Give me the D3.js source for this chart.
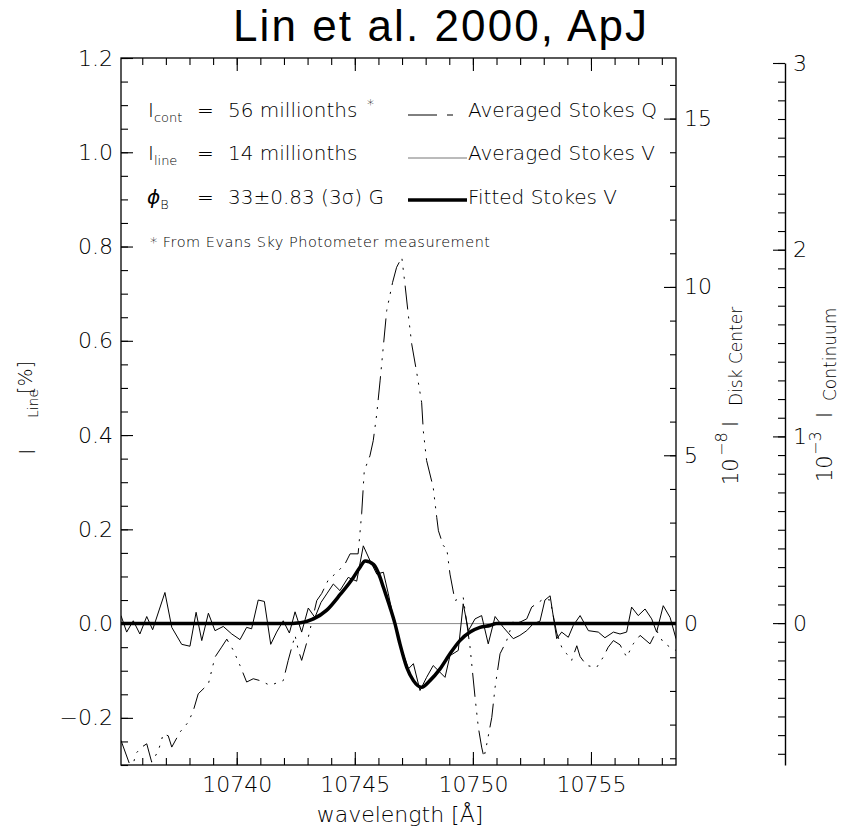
<!DOCTYPE html>
<html>
<head>
<meta charset="utf-8">
<script src="https://cdn.jsdelivr.net/npm/d3@7"></script>
<style>
body { margin: 0; background: #fff; }
svg text { font-family: "DejaVu Sans", sans-serif; fill: #000; }
</style>
</head>
<body>
<svg id="chart" width="841" height="837"></svg>
<script>
// averaged Stokes V, wavelength [A] and I_line [%]
var vWave = [10735.10, 10735.34, 10735.62, 10735.90, 10736.19, 10736.44, 10736.96, 10737.25, 10737.67, 10738.02,
  10738.28, 10738.52, 10738.80, 10739.08, 10739.43, 10739.79, 10740.14, 10740.42, 10740.63, 10740.91,
  10741.17, 10741.44, 10741.69, 10741.97, 10742.23, 10742.47, 10742.75, 10743.03, 10743.31, 10743.57,
  10743.81, 10744.09, 10744.37, 10744.72, 10745.08, 10745.36, 10745.64, 10745.93, 10746.21, 10746.42,
  10746.63, 10746.91, 10747.27, 10747.48, 10747.76, 10748.04, 10748.32, 10748.54, 10748.82, 10749.03,
  10749.38, 10749.59, 10749.81, 10750.09, 10750.37, 10750.65, 10750.94, 10751.29, 10751.71, 10751.99,
  10752.28, 10752.56, 10752.84, 10753.05, 10753.27, 10753.55, 10753.76, 10754.04, 10754.25, 10754.54,
  10754.89, 10755.31, 10755.59, 10755.95, 10756.23, 10756.51, 10756.72, 10757.00, 10757.29, 10757.57,
  10757.78, 10758.06, 10758.35, 10758.60];
var vValue = [0.017, -0.018, 0.006, -0.022, 0.015, -0.013, 0.066, -0.008, -0.044, -0.048,
  0.024, -0.036, 0.022, -0.015, -0.006, -0.022, -0.034, -0.008, -0.011, 0.050,
  0.047, -0.044, -0.018, 0.006, -0.020, 0.025, -0.018, 0.033, 0.013, 0.045,
  0.063, 0.084, 0.070, 0.098, 0.090, 0.165, 0.134, 0.105, 0.109, 0.063,
  0.013, -0.043, -0.096, -0.085, -0.142, -0.114, -0.089, -0.100, -0.114, -0.068,
  -0.057, 0.042, -0.015, 0.010, 0.017, -0.043, 0.015, -0.008, -0.032, -0.025,
  -0.015, 0.000, 0.005, 0.050, 0.059, -0.032, -0.018, -0.029, -0.004, 0.017,
  -0.015, -0.018, -0.030, -0.018, -0.022, -0.018, 0.035, 0.017, 0.031, 0.010,
  -0.018, 0.038, 0.013, -0.032];

// averaged Stokes Q
var qWave = [10735.10, 10735.55, 10735.74, 10735.98, 10736.19, 10736.40, 10736.68, 10736.89, 10737.10, 10737.25,
  10737.60, 10737.95, 10738.16, 10738.37, 10738.80, 10739.08, 10739.36, 10739.58, 10739.86, 10740.14,
  10740.42, 10740.70, 10740.99, 10741.41, 10741.97, 10742.18, 10742.47, 10742.61, 10742.75, 10743.03,
  10743.39, 10743.60, 10743.88, 10744.23, 10744.59, 10744.80, 10745.14, 10745.29, 10745.40, 10745.64,
  10745.78, 10745.93, 10746.07, 10746.35, 10746.60, 10746.77, 10746.99, 10747.13, 10747.27, 10747.41,
  10747.62, 10747.83, 10747.90, 10748.04, 10748.32, 10748.47, 10748.54, 10748.75, 10748.89, 10749.03,
  10749.24, 10749.59, 10749.88, 10750.09, 10750.23, 10750.37, 10750.47, 10750.59, 10750.80, 10750.94,
  10751.15, 10751.43, 10751.71, 10751.99, 10752.28, 10752.49, 10752.98, 10753.27, 10753.55, 10753.76,
  10753.97, 10754.18, 10754.40, 10754.54, 10754.82, 10755.24, 10755.52, 10755.73, 10755.95, 10756.23,
  10756.51, 10756.79, 10757.08, 10757.50, 10757.78, 10758.06, 10758.35, 10758.60];
var qValue = [-0.248, -0.310, -0.275, -0.262, -0.255, -0.294, -0.270, -0.234, -0.238, -0.262,
  -0.230, -0.209, -0.185, -0.149, -0.128, -0.071, -0.050, -0.033, -0.057, -0.089,
  -0.124, -0.117, -0.121, -0.131, -0.121, -0.078, -0.025, -0.057, -0.078, -0.029,
  0.049, 0.064, 0.093, 0.108, 0.127, 0.148, 0.148, 0.233, 0.324, 0.356,
  0.388, 0.445, 0.515, 0.664, 0.724, 0.756, 0.777, 0.717, 0.653, 0.593,
  0.533, 0.469, 0.409, 0.346, 0.289, 0.225, 0.197, 0.165, 0.161, 0.105,
  0.049, 0.056, -0.050, -0.156, -0.220, -0.262, -0.284, -0.255, -0.199, -0.135,
  -0.064, -0.036, 0.006, 0.003, 0.010, 0.035, 0.052, 0.050, -0.020, -0.050,
  -0.064, -0.078, -0.047, -0.070, -0.089, -0.093, -0.071, -0.050, -0.036, -0.045,
  -0.071, -0.043, -0.025, -0.043, -0.015, -0.040, -0.050, -0.057];

// fitted Stokes V
var fitWave = [10735.10, 10742.00, 10742.70, 10743.25, 10743.80, 10744.40, 10744.94, 10745.20, 10745.44, 10745.80,
  10746.07, 10746.21, 10746.49, 10746.70, 10746.91, 10747.20, 10747.48, 10747.83, 10748.18, 10748.61,
  10749.03, 10749.45, 10749.88, 10750.30, 10750.72, 10751.00, 10758.60];
var fitValue = [0, 0, 0.002, 0.010, 0.028, 0.063, 0.098, 0.118, 0.133, 0.125,
  0.098, 0.077, 0.035, 0.000, -0.043, -0.093, -0.121, -0.135, -0.121, -0.096,
  -0.064, -0.036, -0.018, -0.008, -0.004, 0, 0];

// ticks
var xMajor = [10740, 10745, 10750, 10755];
var xMinor = d3.range(10736, 10759, 1);
var yMajor = [-0.2, 0, 0.2, 0.4, 0.6, 0.8, 1.0, 1.2];
var yMinor = d3.range(-30, 121, 5).map(function (d) { return d / 100; });
var diskMajor = [0, 5, 10, 15];
var diskMinor = d3.range(-4, 17, 1);
var contMajor = [0, 1, 2, 3];
var contMinor = d3.range(-7, 31, 1).map(function (d) { return d / 10; });

var svg = d3.select("#chart");
var pLeft = 121, pRight = 676, pTop = 58, pBottom = 765;

var x = d3.scaleLinear().domain([10735.1, 10758.6]).range([pLeft, pRight]);
var y = d3.scaleLinear().domain([-0.3, 1.2]).range([pBottom, pTop]);
// 1 % of I_line = 14e-8 of disk center intensity
var yDisk = d3.scaleLinear().domain([-0.3 * 14, 1.2 * 14]).range([pBottom, pTop]);
var yCont = d3.scaleLinear().domain([-0.76, 3.0]).range([pBottom, 63]);

function finish(g, keepDomain) {
    if (!keepDomain) g.select(".domain").remove();
    g.attr("font-family", null).attr("font-size", 22).attr("font-weight", 200);
    g.selectAll(".tick line").attr("stroke", "#000").attr("stroke-width", 1.1);
    g.selectAll("text").attr("fill", "#000");
}

var fmt1 = d3.format(".1f");

// bottom / top axes
svg.append("g").attr("transform", "translate(0," + pBottom + ")")
    .call(d3.axisBottom(x).tickValues(xMinor).tickSize(-7).tickFormat(""))
    .call(finish);
svg.append("g").attr("transform", "translate(0," + pBottom + ")")
    .call(d3.axisBottom(x).tickValues(xMajor).tickSize(-13).tickPadding(11).tickFormat(d3.format("d")))
    .call(finish);
svg.append("g").attr("transform", "translate(0," + pTop + ")")
    .call(d3.axisTop(x).tickValues(xMinor).tickSize(-7).tickFormat(""))
    .call(finish);
svg.append("g").attr("transform", "translate(0," + pTop + ")")
    .call(d3.axisTop(x).tickValues(xMajor).tickSize(-13).tickFormat(""))
    .call(finish);

// left axis
svg.append("g").attr("transform", "translate(" + pLeft + ",0)")
    .call(d3.axisLeft(y).tickValues(yMinor).tickSize(-7).tickFormat(""))
    .call(finish);
svg.append("g").attr("transform", "translate(" + pLeft + ",0)")
    .call(d3.axisLeft(y).tickValues(yMajor).tickSize(-12).tickPadding(8).tickFormat(fmt1))
    .call(finish);

// right edge of the plot: 10^-8 I disk center
svg.append("g").attr("transform", "translate(" + pRight + ",0)")
    .call(d3.axisRight(yDisk).tickValues(diskMinor).tickSize(-6).tickFormat(""))
    .call(finish);
svg.append("g").attr("transform", "translate(" + pRight + ",0)")
    .call(d3.axisRight(yDisk).tickValues(diskMajor).tickSize(-12).tickPadding(8).tickFormat(d3.format("d")))
    .call(finish);

// separate continuum axis
svg.append("g").attr("transform", "translate(785,0)")
    .call(d3.axisRight(yCont).tickValues(contMinor).tickSize(-7).tickSizeOuter(0).tickFormat(""))
    .call(function (g) {
        finish(g, true);
        g.select(".domain").attr("stroke", "#000").attr("stroke-width", 1.4);
    });
svg.append("g").attr("transform", "translate(785,0)")
    .call(d3.axisRight(yCont).tickValues(contMajor).tickSize(-12).tickPadding(8).tickFormat(d3.format("d")))
    .call(finish);

// frame
svg.append("rect")
    .attr("x", pLeft).attr("y", pTop)
    .attr("width", pRight - pLeft).attr("height", pBottom - pTop)
    .attr("fill", "none").attr("stroke", "#000").attr("stroke-width", 1.3);

// curves
svg.append("clipPath").attr("id", "plotclip")
    .append("rect").attr("x", pLeft).attr("y", pTop)
    .attr("width", pRight - pLeft).attr("height", pBottom - pTop);

var plot = svg.append("g").attr("clip-path", "url(#plotclip)");

plot.append("line")
    .attr("x1", pLeft).attr("x2", pRight)
    .attr("y1", y(0)).attr("y2", y(0))
    .attr("stroke", "#888").attr("stroke-width", 1);

var line = d3.line().x(function (d) { return x(d[0]); }).y(function (d) { return y(d[1]); });

var qData = d3.zip(qWave, qValue);
var vData = d3.zip(vWave, vValue);
var fitData = d3.zip(fitWave, fitValue);

plot.append("path").datum(qData)
    .attr("d", line)
    .attr("fill", "none").attr("stroke", "#000").attr("stroke-width", 1)
    .attr("stroke-dasharray", "24,7,2,7,2,7,2,7");

plot.append("path").datum(vData)
    .attr("d", line)
    .attr("fill", "none").attr("stroke", "#000").attr("stroke-width", 1)
    .attr("stroke-linejoin", "round");

plot.append("path").datum(fitData)
    .attr("d", line.curve(d3.curveMonotoneX))
    .attr("fill", "none").attr("stroke", "#000").attr("stroke-width", 3.5);

// title
svg.append("text")
    .attr("x", 440).attr("y", 41)
    .attr("text-anchor", "middle")
    .style("font-family", "'Liberation Sans', Arial, sans-serif")
    .attr("font-size", 44)
    .attr("textLength", 414).attr("lengthAdjust", "spacing")
    .text("Lin et al. 2000, ApJ");

// legend texts
var leg = svg.append("g").attr("font-size", 20).attr("font-weight", 200);
var rows = [117, 160, 204];

var t1 = leg.append("text").attr("x", 148).attr("y", rows[0]).text("I");
t1.append("tspan").attr("dy", 5).attr("font-size", 13).text("cont");
leg.append("text").attr("x", 197).attr("y", rows[0]).text("=");
leg.append("text").attr("x", 228).attr("y", rows[0]).text("56 millionths");
leg.append("text").attr("x", 367).attr("y", rows[0] - 8).attr("font-size", 14).text("*");

var t2 = leg.append("text").attr("x", 148).attr("y", rows[1]).text("I");
t2.append("tspan").attr("dy", 5).attr("font-size", 13).text("line");
leg.append("text").attr("x", 197).attr("y", rows[1]).text("=");
leg.append("text").attr("x", 228).attr("y", rows[1]).text("14 millionths");

var t3 = leg.append("text").attr("x", 147).attr("y", rows[2]).attr("font-style", "italic").text("\u03d5");
t3.append("tspan").attr("dy", 5).attr("font-size", 13).attr("font-style", "normal").text("B");
leg.append("text").attr("x", 197).attr("y", rows[2]).text("=");
leg.append("text").attr("x", 228).attr("y", rows[2]).text("33\u00b10.83 (3\u03c3) G");

leg.append("text").attr("x", 150).attr("y", 247).attr("font-size", 14.5)
    .attr("textLength", 340).attr("lengthAdjust", "spacing")
    .text("* From Evans Sky Photometer measurement");

// legend samples
leg.append("line").attr("x1", 408).attr("x2", 454).attr("y1", rows[0] - 2).attr("y2", rows[0] - 2)
    .attr("stroke", "#000").attr("stroke-width", 1).attr("stroke-dasharray", "29,10,6,20");
leg.append("line").attr("x1", 408).attr("x2", 467).attr("y1", rows[1] - 2).attr("y2", rows[1] - 2)
    .attr("stroke", "#777").attr("stroke-width", 1);
leg.append("line").attr("x1", 408).attr("x2", 467).attr("y1", rows[2] - 4).attr("y2", rows[2] - 4)
    .attr("stroke", "#000").attr("stroke-width", 3.5);
leg.append("text").attr("x", 468).attr("y", rows[0]).text("Averaged Stokes Q");
leg.append("text").attr("x", 468).attr("y", rows[1]).text("Averaged Stokes V");
leg.append("text").attr("x", 468).attr("y", rows[2]).text("Fitted Stokes V");

// axis titles
var lab = svg.append("g").attr("font-weight", 200);
lab.append("text").attr("x", 400).attr("y", 822).attr("text-anchor", "middle")
    .attr("font-size", 22).text("wavelength [\u00c5]");

function vtext(px, py, size, str) {
    return lab.append("text")
        .attr("transform", "translate(" + px + "," + py + ") rotate(-90)")
        .attr("font-size", size).text(str);
}

// left: I_Line [%]
vtext(35, 455, 22, "I");
vtext(38, 418, 14, "Line");
vtext(32, 394, 19, "[%]");

// 10^-8 I_Disk Center
vtext(738, 485, 21, "10");
vtext(727, 456, 16, "\u22128");
vtext(738, 427, 21, "I");
vtext(742, 406, 17, "Disk Center");

// 10^-3 I_Continuum
vtext(832, 482, 21, "10");
vtext(821, 455, 16, "\u22123");
vtext(832, 418, 21, "I");
vtext(836, 401, 17, "Continuum");
</script>
</body>
</html>
